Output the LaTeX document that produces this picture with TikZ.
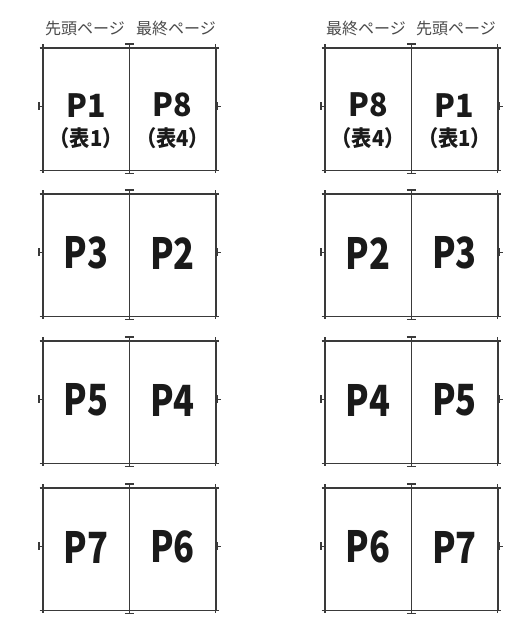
\documentclass[tikz,border=0pt]{standalone}
\usepackage{fontspec}
\newfontfamily\jp{Noto Sans CJK JP}
\definecolor{linec}{HTML}{3A3A3A}
\definecolor{labc}{HTML}{1A1A1A}
\definecolor{headc}{HTML}{4A4A4A}
\tikzset{
  cell/.style={minimum width=86pt, minimum height=122pt, inner sep=0pt, anchor=north west},
  frame/.style={draw=linec, line width=1.6pt},
  mk/.style={draw=linec, line width=1.1pt},
  biglbl/.style={font=\jp\bfseries\fontsize{43}{43}\selectfont, text=labc, inner sep=0pt, xscale=0.8},
  toplbl/.style={font=\jp\bfseries\fontsize{32}{32}\selectfont, text=labc, inner sep=0pt, xscale=0.95},
  sublbl/.style={font=\jp\bfseries\fontsize{22}{22}\selectfont, text=labc, inner sep=0pt, xscale=0.92},
  head/.style={font=\jp\fontsize{16}{16}\selectfont, text=headc, inner sep=0pt, anchor=west}
}
\newcommand\marksfor[2]{%
  % frame and fold line
  \draw[frame] (#1.north west) rectangle (#2.south east);
  \draw[frame] (#1.north east) -- (#1.south east);
  % corners
  \draw[mk] ([xshift=-3.5pt]#1.north west) -- (#1.north west) -- ([yshift=4pt]#1.north west);
  \draw[mk] ([xshift=-3.5pt]#1.south west) -- (#1.south west) -- ([yshift=-2.5pt]#1.south west);
  \draw[mk] ([xshift=3pt]#2.north east) -- (#2.north east) -- ([yshift=4pt]#2.north east);
  \draw[mk] ([xshift=3pt]#2.south east) -- (#2.south east) -- ([yshift=-2.5pt]#2.south east);
  % middle top / bottom
  \draw[mk] (#1.north east) -- ([yshift=4pt]#1.north east);
  \draw[mk] ([xshift=-4.5pt,yshift=4pt]#1.north east) -- ([xshift=4.5pt,yshift=4pt]#1.north east);
  \draw[mk] (#1.south east) -- ([yshift=-2.8pt]#1.south east);
  \draw[mk] ([xshift=-4.5pt,yshift=-2.8pt]#1.south east) -- ([xshift=4.5pt,yshift=-2.8pt]#1.south east);
  % sides
  \draw[mk] ([yshift=3pt]#1.west) -- ([xshift=-5pt,yshift=3pt]#1.west);
  \draw[mk] ([xshift=-4pt,yshift=7pt]#1.west) -- ([xshift=-4pt,yshift=-1pt]#1.west);
  \draw[mk] ([yshift=3pt]#2.east) -- ([xshift=5pt,yshift=3pt]#2.east);
  \draw[mk] ([xshift=2pt,yshift=7pt]#2.east) -- ([xshift=2pt,yshift=-1pt]#2.east);
}
\newcommand\spreadrow[5]{% #1 name prefix, #2 x, #3 y, #4 left label, #5 right label
  \node[cell] (#1L) at (#2,#3) {};
  \node[cell] (#1R) at (#1L.north east) {};
  \node[biglbl] (#1Lt) at ([yshift=2pt]#1L.center) {#4};
  \node[biglbl] (#1Rt) at ([yshift=2pt]#1R.center) {#5};
  \marksfor{#1L}{#1R}
}
\begin{document}
\begin{tikzpicture}[x=1pt,y=-1pt]
\useasboundingbox (0,0) rectangle (532,624);
% headers
\node[head] (h1) at (45,28.5) {先頭ページ};
\node[head] (h2) at (136,28.5) {最終ページ};
\node[head] (h3) at (326,28.5) {最終ページ};
\node[head] (h4) at (416,28.5) {先頭ページ};
% first row
\node[cell] (aL) at (43,48) {};
\node[cell] (aR) at (aL.north east) {};
\node[toplbl] (aLt) at ([yshift=4pt]aL.center) {P1};
\node[toplbl] (aRt) at ([yshift=4pt]aR.center) {P8};
\node[sublbl] (aLs) at ([yshift=-28.5pt]aL.center) {（表1）};
\node[sublbl] (aRs) at ([yshift=-28.5pt]aR.center) {（表4）};
\marksfor{aL}{aR}
\node[cell] (bL) at (325,48) {};
\node[cell] (bR) at (bL.north east) {};
\node[toplbl] (bLt) at ([yshift=4pt]bL.center) {P8};
\node[toplbl] (bRt) at ([yshift=4pt]bR.center) {P1};
\node[sublbl] (bLs) at ([yshift=-28.5pt]bL.center) {（表4）};
\node[sublbl] (bRs) at ([yshift=-28.5pt]bR.center) {（表1）};
\marksfor{bL}{bR}
% other rows
\spreadrow{c}{43}{194}{P3}{P2}
\spreadrow{d}{325}{194}{P2}{P3}
\spreadrow{e}{43}{341}{P5}{P4}
\spreadrow{f}{325}{341}{P4}{P5}
\spreadrow{g}{43}{488}{P7}{P6}
\spreadrow{h}{325}{488}{P6}{P7}
\end{tikzpicture}
\end{document}
